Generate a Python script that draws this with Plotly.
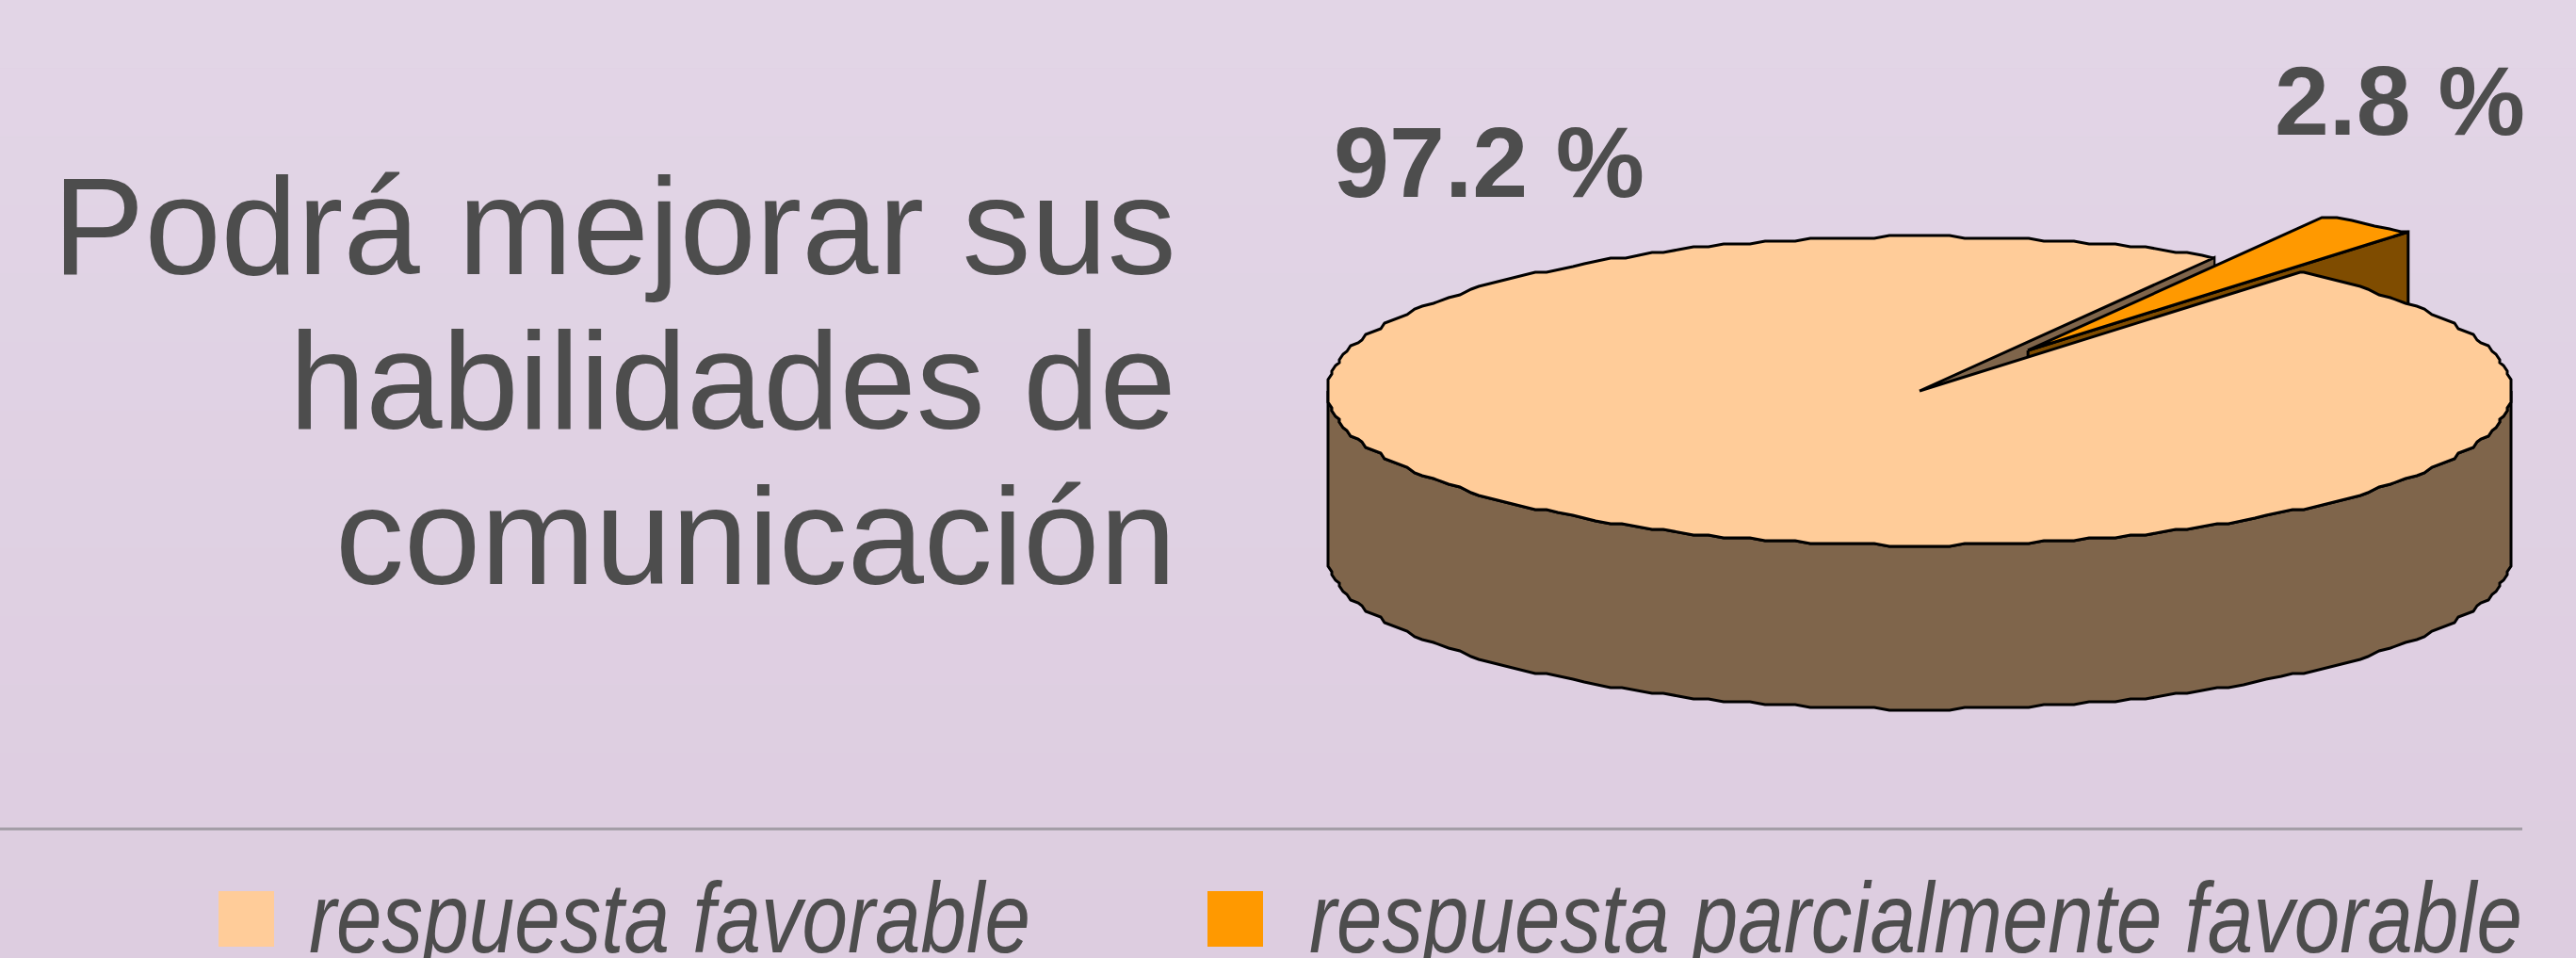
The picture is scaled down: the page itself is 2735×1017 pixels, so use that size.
import numpy as np
import plotly.graph_objects as go

# --- data ---
categories = ["respuesta favorable", "respuesta parcialmente favorable"]
values = [97.2, 2.8]
value_labels = ["97.2 %", "2.8 %"]
title_lines = ["Podrá mejorar sus", "habilidades de", "comunicación"]

# --- style / layout ---
W, H = 2735, 1017
CX, CY, RX, RY = 2038.0, 415.0, 628.0, 164.0
DEPTH = 174.0 / RY
SMALL_END = 50.0            # degrees, counter-clockwise from east
EXPLODE = 0.32
TOP = ["#FFCC99", "#FF9900"]
SIDE = ["#7F654B", "#7F4C00"]
INK = "#4D4D4D"
FONT = "Liberation Sans"
STEP = 1.5


def rim(a0, a1):
    """Slightly coarse rim on a shared angle grid, as in the low-resolution original."""
    inner = STEP * np.arange(np.floor(a0 / STEP) + 1, np.ceil(a1 / STEP))
    t = np.radians(np.r_[a0, inner, a1])
    gx, gy = 4.0 / RX, 3.0 / RY
    return np.round(np.cos(t) / gx) * gx, np.round(np.sin(t) / gy) * gy


small_sweep = values[1] / sum(values) * 360.0
a_lo, a_hi = SMALL_END, SMALL_END + small_sweep
mid = np.radians((a_lo + a_hi) / 2)
ox, oy = EXPLODE * np.cos(mid), EXPLODE * np.sin(mid)


def poly(name, xs, ys, fill, width=3.0):
    return go.Scatter(x=xs, y=ys, name=name, mode="lines", fill="toself", fillcolor=fill,
                      line=dict(color="#000000", width=width), hoverinfo="skip", showlegend=False)


fig = go.Figure()
# radial wall of the large slice, seen through the gap
ex, ey = np.cos(np.radians(a_hi)), np.sin(np.radians(a_hi))
fig.add_trace(poly(categories[0] + " cut", [0, ex, ex, 0, 0], [0, ey, ey - DEPTH, -DEPTH, 0], SIDE[0], 2.2))
# radial wall of the small exploded slice
sx, sy = np.cos(np.radians(a_lo)), np.sin(np.radians(a_lo))
fig.add_trace(poly(categories[1] + " cut",
                   [ox, ox + sx, ox + sx, ox, ox],
                   [oy, oy + sy, oy + sy - DEPTH, oy - DEPTH, oy], SIDE[1]))
# outer wall of the large slice (front half only)
rx_, ry_ = rim(180, 360)
fig.add_trace(poly(categories[0] + " wall",
                   np.r_[rx_, rx_[::-1], rx_[0]], np.r_[ry_, ry_[::-1] - DEPTH, ry_[0]], SIDE[0]))
# top of the large slice
tx, ty = rim(a_hi, a_lo + 360)
fig.add_trace(poly(categories[0], np.r_[0, tx, 0], np.r_[0, ty, 0], TOP[0]))
# top of the small slice
tx, ty = rim(a_lo, a_hi)
fig.add_trace(poly(categories[1], np.r_[0, tx, 0] + ox, np.r_[0, ty, 0] + oy, TOP[1]))

shapes = []
bands = 14
c0, c1 = np.array([226, 213, 230]), np.array([221, 205, 224])
for i in range(bands):
    c = np.round(c0 + (c1 - c0) * i / (bands - 1)).astype(int)
    shapes.append(dict(type="rect", xref="paper", yref="paper", layer="below",
                       x0=0, x1=1, y0=1 - i / bands, y1=1 - (i + 1) / bands,
                       fillcolor=f"rgb({c[0]},{c[1]},{c[2]})", line_width=0))


def px(x):
    return x / W


def py(y):
    return 1 - y / H


shapes.append(dict(type="line", xref="paper", yref="paper", x0=0, x1=px(2678), y0=py(880), y1=py(880),
                   line=dict(color="#A39DA6", width=3)))
for (x0, x1), col in zip([(232, 291), (1282, 1341)], TOP):
    shapes.append(dict(type="rect", xref="paper", yref="paper", x0=px(x0), x1=px(x1), y0=py(946), y1=py(1005),
                       fillcolor=col, line_width=0))

ann = []


def text(s, x, y, size, anchor="left", bold=False, italic=False):
    t = f"<b>{s}</b>" if bold else s
    t = f"<i>{t}</i>" if italic else t
    ann.append(dict(text=t, x=px(x), y=py(y), xref="paper", yref="paper", xanchor=anchor, yanchor="middle",
                    showarrow=False, borderpad=0, borderwidth=0,
                    font=dict(family=FONT, size=size, color=INK)))


for line, yc in zip(title_lines, [241, 405, 569]):
    text(line, 1249, yc, 146, "right")
text(value_labels[0], 1416, 172, 106, bold=True)
text(value_labels[1], 2415, 107, 104, bold=True)
text(categories[0], 328, 974, 105, italic=True)
text(categories[1], 1390, 974, 105, italic=True)

fig.update_layout(
    width=W, height=H, margin=dict(l=0, r=0, t=0, b=0), paper_bgcolor="#DFD0E2", plot_bgcolor="rgba(0,0,0,0)",
    xaxis=dict(range=[(0 - CX) / RX, (W - CX) / RX], visible=False, fixedrange=True),
    yaxis=dict(range=[(CY - H) / RY, CY / RY], visible=False, fixedrange=True),
    shapes=shapes, annotations=ann, showlegend=False,
)
# the reference's legend text is horizontally condensed
squeeze = """
document.body.style.margin='0';
document.documentElement.style.overflow='hidden';
var targets={'respuesta favorable':766,'respuesta parcialmente favorable':1288};
document.querySelectorAll('.annotation-text').forEach(function(t){
  var w=targets[t.textContent];
  if(!w)return;
  var b=t.getBBox();
  t.setAttribute('transform','translate('+b.x+' 0) scale('+(w/b.width)+' 1) translate('+(-b.x)+' 0)');
});
"""
fig.write_html("out.html", config=dict(displayModeBar=False), post_script=squeeze)
